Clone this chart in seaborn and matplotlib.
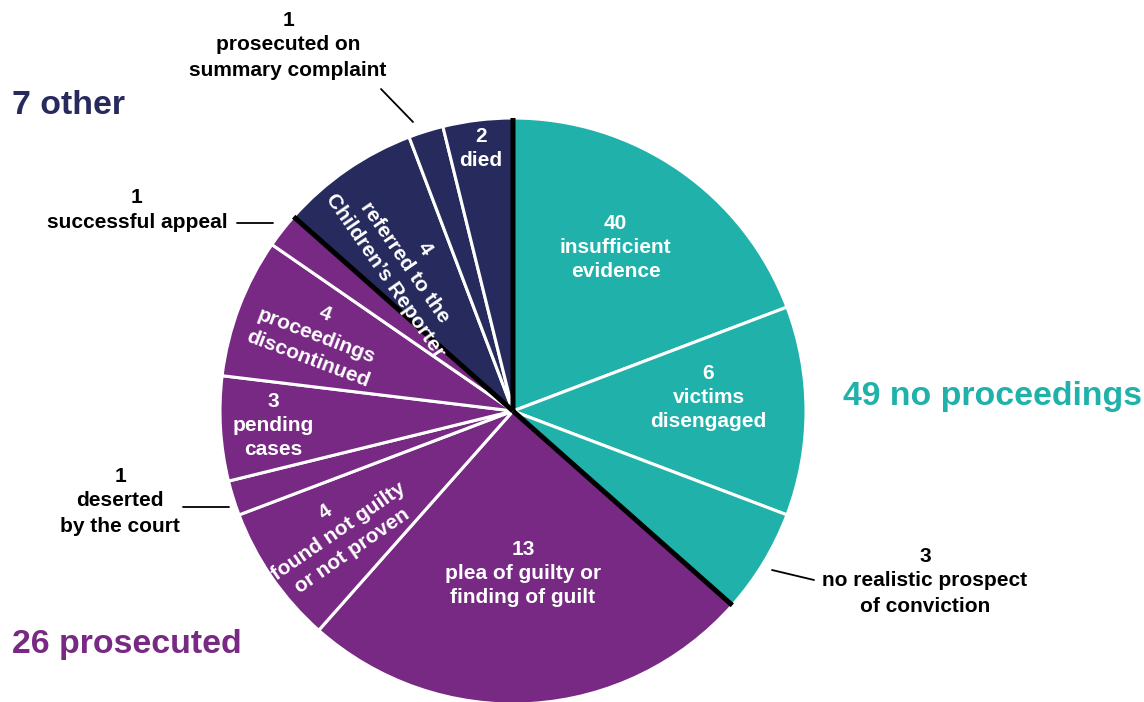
import numpy as np
import matplotlib
matplotlib.use("Agg")
import matplotlib.pyplot as plt
import seaborn as sns

# ---------------- data ----------------
categories = [
    "insufficient\nevidence",
    "victims\ndisengaged",
    "no realistic prospect\nof conviction",
    "plea of guilty or\nfinding of guilt",
    "found not guilty\nor not proven",
    "deserted\nby the court",
    "pending\ncases",
    "proceedings\ndiscontinued",
    "successful appeal",
    "referred to the\nChildren’s Reporter",
    "prosecuted on\nsummary complaint",
    "died",
]
counts = [40, 6, 3, 13, 4, 1, 3, 4, 1, 4, 1, 2]
# angular size of each slice as drawn in the picture (the 40 slice is drawn compressed)
slice_sizes = [10, 6, 3, 13, 4, 1, 3, 4, 1, 4, 1, 2]
slice_group = [0, 0, 0, 1, 1, 1, 1, 1, 1, 2, 2, 2]
group_names = ["no proceedings", "prosecuted", "other"]
group_totals = [49, 26, 7]

# ---------------- style ----------------
sns.set_theme(style="white")
plt.rcParams["font.family"] = ["Liberation Sans", "DejaVu Sans"]

group_colors = ["#20b2aa", "#772983", "#262a5c"]
W, H = 1144, 702
fig = plt.figure(figsize=(W / 100, H / 100), dpi=100)
ax = fig.add_axes([0, 0, 1, 1])

cx, cy_img, R = 513, 411, 293
cy = H - cy_img
colors = [group_colors[g] for g in slice_group]

wedges, _ = ax.pie(
    slice_sizes, colors=colors, startangle=90, counterclock=False,
    center=(cx, cy), radius=R, frame=True,
    wedgeprops=dict(edgecolor="white", linewidth=2.2),
)
ax.set_xlim(0, W)
ax.set_ylim(0, H)
ax.set_aspect("equal")
ax.axis("off")

# black separators between groups
bounds = []
for i in range(len(wedges)):
    nxt = (i + 1) % len(wedges)
    if slice_group[i] != slice_group[nxt]:
        bounds.append(wedges[i].theta1)  # clockwise: theta1 is the trailing edge
for th in bounds:
    t = np.deg2rad(th)
    ax.plot([cx, cx + R * np.cos(t)], [cy, cy + R * np.sin(t)],
            color="black", lw=3.6, solid_capstyle="butt", zorder=5)

FS = 15
# inside labels: mode, radius, angular offset
inside = {
    0: ("h", 193, 2.5),
    1: ("h", 196, 4.0),
    3: ("h", 163, 0.0),
    4: ("r", 212, 0.0),
    6: ("h", 240, 0.0),
    7: ("r", 210, 0.0),
    9: ("r", 184, 1.5),
    11: ("h", 264, 0.0),
}
for i, (mode, r, off) in inside.items():
    w = wedges[i]
    mid = 0.5 * (w.theta1 + w.theta2)
    t = np.deg2rad(mid + off)
    x, y = cx + r * np.cos(t), cy + r * np.sin(t)
    rot = 0
    if mode == "r":
        rot = (mid % 360) - 180
    ax.text(x, y, f"{counts[i]}\n{categories[i]}", ha="center", va="center",
            rotation=rot, rotation_mode="anchor", color="white",
            fontsize=FS, fontweight="bold", linespacing=1.33, zorder=6)

# outside labels with leader lines (image pixel coords)
outside = {
    2: ((925, 581), [(772, 570), (814, 580)]),
    5: ((120, 501), [(183, 507), (229, 507)]),
    8: ((137, 210), [(237, 223), (273, 223)]),
    10: ((288, 45), [(381, 89), (413, 122)]),
}
for i, ((tx, ty), line) in outside.items():
    ax.text(tx, H - ty, f"{counts[i]}\n{categories[i]}", ha="center", va="center",
            color="black", fontsize=FS, fontweight="bold", linespacing=1.4, zorder=6)
    (x0, y0), (x1, y1) = line
    ax.plot([x0, x1], [H - y0, H - y1], color="black", lw=1.3, zorder=6)

# group titles
group_pos = [(843, 397), (12, 645), (12, 106)]
for g, (gx, gy) in enumerate(group_pos):
    ax.text(gx, H - gy, f"{group_totals[g]} {group_names[g]}", ha="left", va="center",
            color=group_colors[g], fontsize=24.4, fontweight="bold")

fig.savefig("out.png", dpi=100, facecolor="white")
